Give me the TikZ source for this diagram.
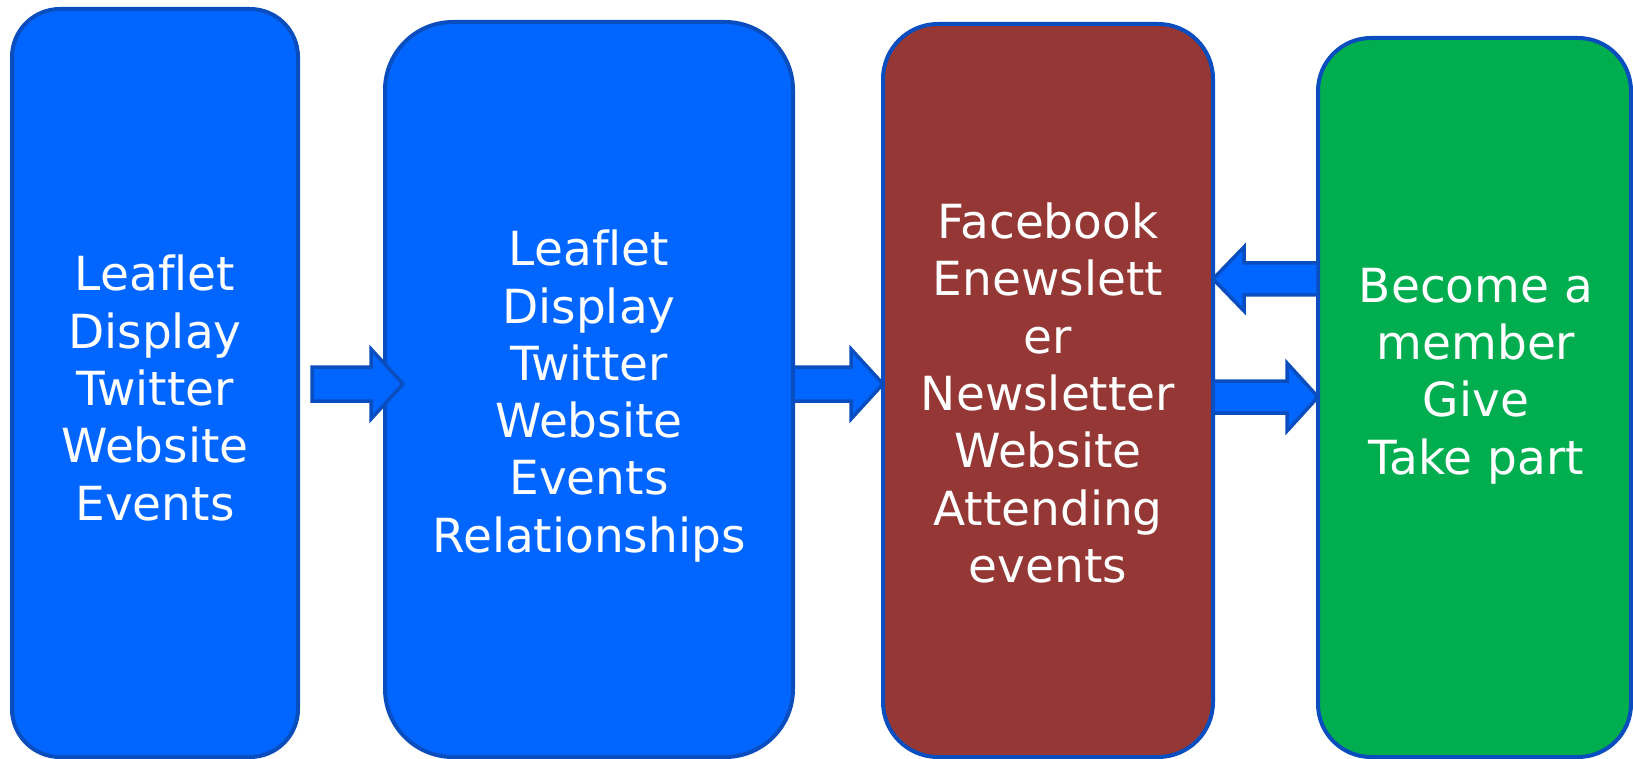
\documentclass[tikz,border=0pt]{standalone}
\usepackage{fontspec}
\setmainfont[Ligatures=NoCommon]{DejaVu Sans}
\definecolor{bord}{RGB}{10,77,190}
\definecolor{bluef}{RGB}{0,102,255}
\definecolor{brownf}{RGB}{149,55,53}
\definecolor{greenf}{RGB}{0,174,80}
\begin{document}
\begin{tikzpicture}[x=1pt,y=-1pt,
  box/.style={draw=bord,line width=4pt,inner sep=0pt,outer sep=0pt,rectangle},
  txt/.style={text=white,align=center,inner sep=0pt,font=\fontsize{47}{57.3}\selectfont},
  barrow/.style={draw=bord,fill=bluef,line width=3.5pt,line join=miter}]
\useasboundingbox (0,0) rectangle (1633,759);
% boxes
\node[box,fill=bluef,minimum width=286pt,minimum height=748pt,rounded corners=48pt] (b1) at (155,383) {};
\node[box,fill=bluef,minimum width=408pt,minimum height=735pt,rounded corners=68pt] (b2) at (589,389.5) {};
\node[box,fill=brownf,minimum width=330pt,minimum height=733pt,rounded corners=55pt] (b3) at (1048,390.5) {};
\node[box,fill=greenf,minimum width=313pt,minimum height=719pt,rounded corners=53pt] (b4) at (1474.5,397.5) {};
% texts
\node[txt] (t1) at (155,388) {Leaflet\\Display\\Twitter\\Website\\Events};
\node[txt] (t2) at (589,396) {Leaflet\\Display\\Twitter\\Website\\Events\\Relationships};
\node[txt] (t3) at (1048,393) {Facebook\\Enewslett\\er\\Newsletter\\Website\\Attending\\events};
\node[txt] (t4) at (1476,376) {Become a\\member\\Give\\Take part};
% block arrows
\coordinate (a1s) at ([xshift=14pt]b1.east |- 0,384);
\coordinate (a1t) at ([xshift=18pt]b2.west |- 0,384);
\draw[barrow] ([yshift=-17pt]a1s) -- ([xshift=-32pt,yshift=-17pt]a1t) -- ([xshift=-32pt,yshift=-35pt]a1t) -- (a1t)
  -- ([xshift=-32pt,yshift=35pt]a1t) -- ([xshift=-32pt,yshift=17pt]a1t) -- ([yshift=17pt]a1s) -- cycle;
\coordinate (a2s) at (b2.east |- 0,384);
\coordinate (a2t) at (b3.west |- 0,384);
\draw[barrow] ([yshift=-17pt]a2s) -- ([xshift=-32pt,yshift=-17pt]a2t) -- ([xshift=-32pt,yshift=-35pt]a2t) -- (a2t)
  -- ([xshift=-32pt,yshift=35pt]a2t) -- ([xshift=-32pt,yshift=17pt]a2t) -- ([yshift=17pt]a2s) -- cycle;
\coordinate (a3s) at (b4.west |- 0,279);
\coordinate (a3t) at (b3.east |- 0,279);
\draw[barrow] ([yshift=-16pt]a3s) -- ([xshift=31pt,yshift=-16pt]a3t) -- ([xshift=31pt,yshift=-32pt]a3t) -- (a3t)
  -- ([xshift=31pt,yshift=32pt]a3t) -- ([xshift=31pt,yshift=16pt]a3t) -- ([yshift=16pt]a3s) -- cycle;
\coordinate (a4s) at (b3.east |- 0,397);
\coordinate (a4t) at (b4.west |- 0,397);
\draw[barrow] ([yshift=-16pt]a4s) -- ([xshift=-31pt,yshift=-16pt]a4t) -- ([xshift=-31pt,yshift=-34pt]a4t) -- (a4t)
  -- ([xshift=-31pt,yshift=34pt]a4t) -- ([xshift=-31pt,yshift=16pt]a4t) -- ([yshift=16pt]a4s) -- cycle;
\end{tikzpicture}
\end{document}
